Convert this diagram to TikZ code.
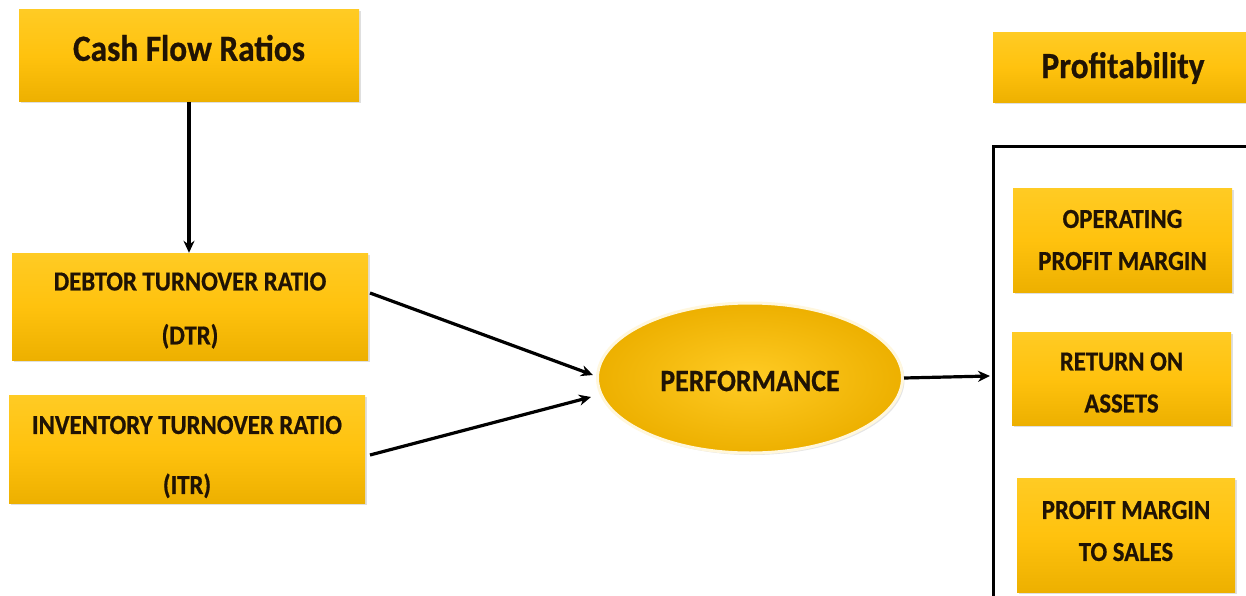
\documentclass[tikz,border=0pt]{standalone}
\usepackage{fontspec}
\setmainfont{Carlito}[BoldFeatures={FakeStretch=0.9,FakeBold=0.6}]
\usetikzlibrary{shapes.geometric,arrows.meta,shadows}
\definecolor{goldtop}{HTML}{FFCB24}
\definecolor{goldmid}{HTML}{FFC20E}
\definecolor{goldbot}{HTML}{EDB000}
\definecolor{textdark}{HTML}{201304}
\tikzset{
  goldbox/.style={rectangle, inner sep=0pt, top color=goldtop, bottom color=goldbot, middle color=goldmid,
    drop shadow={shadow xshift=1.5pt, shadow yshift=-1.5pt, opacity=0.25}},
  boxtext/.style={inner sep=0pt, text=textdark, align=center, font=\bfseries\fontsize{27.5}{33}\selectfont},
  titletext/.style={boxtext, font=\bfseries\fontsize{37}{42}\selectfont},
  perfell/.style={ellipse, inner sep=0pt, draw=white!85!goldtop, line width=3pt,
    inner color=goldtop, outer color=goldbot,
    drop shadow={shadow xshift=2pt, shadow yshift=-2pt, opacity=0.2}},
  perftext/.style={boxtext, font=\bfseries\fontsize{31}{36}\selectfont},
  conn/.style={line width=3.2pt, -{Stealth[length=12pt,width=11pt]}},
}
\begin{document}
\begin{tikzpicture}[x=1pt,y=-1pt]
\useasboundingbox (0,0) rectangle (1246,596);
\fill[white] (0,0) rectangle (1246,596);

% boxes
\node[goldbox, minimum width=340pt, minimum height=92pt] (cfr) at (189,56) {};
\node[goldbox, minimum width=260pt, minimum height=70pt] (prof) at (1123,68) {};
\node[goldbox, minimum width=356pt, minimum height=107pt] (dtr) at (190,306.5) {};
\node[goldbox, minimum width=356pt, minimum height=108pt] (itr) at (187,449) {};
\node[perfell, minimum width=305pt, minimum height=150pt] (perf) at (750,378) {};
\node[goldbox, minimum width=219pt, minimum height=104pt] (opm) at (1122.5,240) {};
\node[goldbox, minimum width=219pt, minimum height=93pt] (roa) at (1121.5,378.5) {};
\node[goldbox, minimum width=218pt, minimum height=114pt] (pms) at (1126,535) {};

% texts
\node[titletext] (cfr-t) at ([yshift=8pt]cfr.center) {Cash Flow Ratios};
\node[titletext] (prof-t) at (prof.center) {Profitability};
\node[boxtext] (dtr-t) at ([yshift=-4pt]dtr.center) {DEBTOR TURNOVER RATIO\\[21pt](DTR)};
\node[boxtext] (itr-t) at ([yshift=-8pt]itr.center) {INVENTORY TURNOVER RATIO\\[27pt](ITR)};
\node[perftext] (perf-t) at ([yshift=-3pt]perf.center) {PERFORMANCE};
\node[boxtext] (opm-t) at (opm.center) {OPERATING\\[9pt]PROFIT MARGIN};
\node[boxtext] (roa-t) at ([yshift=-4pt]roa.center) {RETURN ON\\[9pt]ASSETS};
\node[boxtext] (pms-t) at ([yshift=4pt]pms.center) {PROFIT MARGIN\\[9pt]TO SALES};

% frame
\draw[line width=3pt] (1250,147) -- (993,147) -- (993,600);
\coordinate (frameL) at (990,376);

% connectors
\draw[conn] (cfr.south) -- (cfr.south |- dtr.north);
\draw[conn] (370,293) -- ([xshift=-3pt,yshift=3pt]perf.west);
\draw[conn] (370,455) -- ([xshift=-5pt,yshift=-19pt]perf.west);
\draw[conn] (perf.east) -- (frameL);
\end{tikzpicture}
\end{document}
